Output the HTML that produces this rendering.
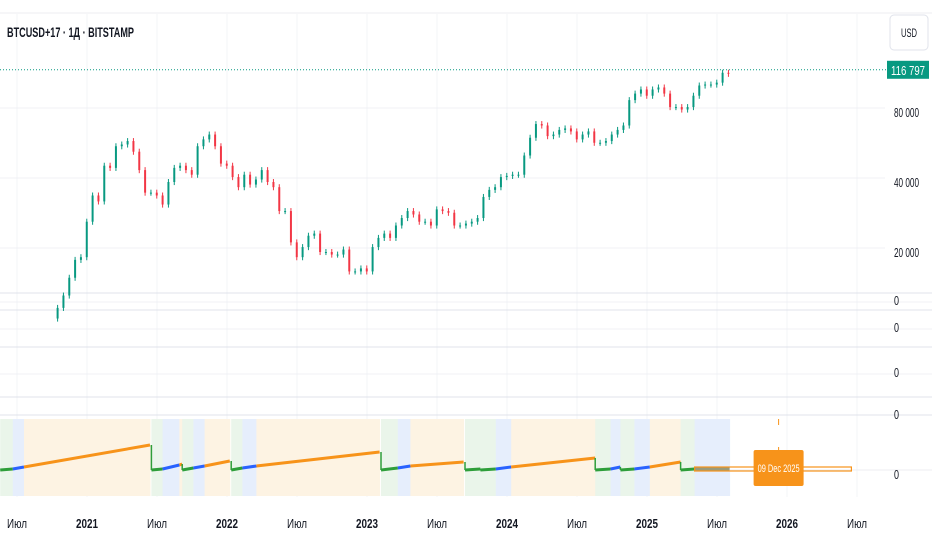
<!DOCTYPE html>
<html><head><meta charset="utf-8">
<style>
html,body{margin:0;padding:0;background:#fff;}
body{width:932px;height:550px;overflow:hidden;position:relative;font-family:"Liberation Sans",sans-serif;}
svg text{font-family:"Liberation Sans",sans-serif;}
</style></head>
<body>
<svg id="chart" width="932" height="550" viewBox="0 0 932 550" xmlns="http://www.w3.org/2000/svg">
  <line x1="0" y1="13" x2="932" y2="13" stroke="#eceef2"/>
  <g id="grid"></g>
  <g id="bands"></g>
  <g id="candles"></g>
  <g id="osc"></g>
  <g id="axes"></g>
  <text x="7" y="37" font-size="14" font-weight="bold" fill="#131722" textLength="127" lengthAdjust="spacingAndGlyphs">BTCUSD+17 · 1Д · BITSTAMP</text>
  <rect x="890" y="15" width="38" height="35" rx="4" fill="#fff" stroke="#e0e3eb"/>
  <text x="909" y="37" font-size="12" text-anchor="middle" fill="#131722" textLength="16" lengthAdjust="spacingAndGlyphs">USD</text>
</svg>
<script>
// ---- data ----
const priceStart = 2020.79;      // first half-month point (Oct 2020)
const priceStep = 1/24;          // half-month step
const closes = [11500,13000,15500,18500,19000,27000,35000,33000,47000,46000,57000,58000,60000,54000,45000,36000,36000,35000,32000,40000,46000,47000,45000,43000,57000,61000,64000,57000,48000,47000,42000,38000,43000,39000,41000,45000,40000,38000,30000,30000,22000,19000,21000,23500,24000,20000,20000,19500,19500,20500,16500,16500,17000,16500,21000,23000,24000,23000,26000,28000,30000,29000,27000,27000,26000,30500,30000,29500,26000,26000,26500,27000,28000,34500,37000,38000,42000,42500,43000,43000,52000,62000,71000,70000,63000,64000,67000,68000,66000,61000,64000,66000,59000,59000,60000,64000,67000,70000,90000,96000,100000,94000,100000,102000,96000,84000,84000,82000,84000,94000,104000,105000,105000,107000,118000,116797];
const lastPrice = 116797;
const priceTicks = [80000,40000,20000];
const xTickLabels = ["Июл","2021","Июл","2022","Июл","2023","Июл","2024","Июл","2025","Июл","2026","Июл"];
const xTickTimes = [2020.5,2021,2021.5,2022,2022.5,2023,2023.5,2024,2024.5,2025,2025.5,2026,2026.5];
// oscillator segments
const segStart = [2020.38,2020.47,2020.55,2021.46,2021.54,2021.66,2021.68,2021.76,2021.84,2022.03,2022.11,2022.21,2023.10,2023.22,2023.31,2023.70,2023.81,2023.92,2024.03,2024.63,2024.74,2024.81,2024.91,2025.02,2025.24,2025.34];
const segEnd   = [2020.47,2020.55,2021.45,2021.54,2021.66,2021.68,2021.76,2021.84,2022.02,2022.11,2022.21,2023.09,2023.22,2023.31,2023.69,2023.81,2023.92,2024.03,2024.63,2024.74,2024.81,2024.91,2025.02,2025.24,2025.34,2025.59];
const segV0    = [0,1,3,0,1,5,0,2,4,0,2,4,0,2,4,0,0,1,3,0,1,0,1,3,0,1];
const segV1    = [1,3,25,1,5,6,2,4,9,2,4,18,2,4,8,1,1,3,12,1,3,1,3,8,1,1];
const segPhase = ["g","b","o","g","b","o","g","b","o","g","b","o","g","b","o","g","g","b","o","g","b","g","b","o","g","x"];
const projStart = 2025.34, projEnd = 2026.46, projValue = 1;
const markerTime = 2025.94, markerLabel = "09 Dec 2025";

// ---- scales ----
const X = t => 87 + (t - 2021) * 140;
const Y = p => 112 - 70 * Math.log2(p / 80000);
const OY = v => 470 - v * 1.0;
const NS = "http://www.w3.org/2000/svg";
function mk(tag, attrs, parent){ const e=document.createElementNS(NS,tag); for(const k in attrs) e.setAttribute(k,attrs[k]); parent.appendChild(e); return e; }
const grid=document.getElementById('grid'), axes=document.getElementById('axes'), candles=document.getElementById('candles'), bands=document.getElementById('bands'), osc=document.getElementById('osc');

// vertical grid
xTickTimes.forEach((t,i)=>{
  const l=mk('line',{x1:X(t),x2:X(t),y1:14,y2:497,stroke:'#f3f4f7'},grid);
  
  
  const isYear = xTickLabels[i]!=='Июл';
  const tx=mk('text',{x:X(t),y:528,'font-size':13,'text-anchor':'middle',fill:'#131722','font-weight':isYear?'bold':'normal',textLength:isYear?22:20,lengthAdjust:'spacingAndGlyphs'},axes);
  tx.textContent=xTickLabels[i];
  
  
});
// price grid + ticks
priceTicks.forEach(p=>{
  const l=mk('line',{x1:0,x2:885,y1:Y(p)-4,y2:Y(p)-4,stroke:'#f0f1f4'},grid);
  
  
  const tx=mk('text',{x:894,y:Y(p)+5,'font-size':13,fill:'#131722',textLength:25,lengthAdjust:'spacingAndGlyphs'},axes);
  tx.textContent=p.toLocaleString('ru-RU').replace(/\s/g,' ');
  
  
});
// pane separators and zero labels
[[293,'#e0e3eb'],[310,'#e0e3eb'],[347,'#e0e3eb'],[397,'#e0e3eb'],[415,'#e0e3eb'],[302,'#f0f1f4'],[329,'#f0f1f4'],[374,'#f0f1f4'],[470,'#eceef2']].forEach(s=>{
  const l=mk('line',{x1:0,x2:932,y1:s[0],y2:s[0],stroke:s[1]},grid);
  
  
});
[300,327,372,414,474].forEach(y=>{
  const tx=mk('text',{x:894,y:y+5,'font-size':13,fill:'#131722',textLength:5,lengthAdjust:'spacingAndGlyphs'},axes);
  tx.textContent='0';
  
  
});
// candles
closes.forEach((c,i)=>{
  const o = i===0 ? c*0.9 : closes[i-1];
  const t = priceStart + i*priceStep;
  const x = X(t);
  const hi = Math.max(o,c)*1.03, lo = Math.min(o,c)*0.97;
  const col = c>=o ? '#089981' : '#f23645';
  const w=mk('line',{x1:x,x2:x,y1:Y(hi),y2:Y(lo),stroke:col,'stroke-width':1},candles);
  
  
  const yt=Math.min(Y(o),Y(c)), h=Math.max(1,Math.abs(Y(o)-Y(c)));
  const b=mk('rect',{x:x-1,y:yt,width:2,height:h,fill:col},candles);
  
  
});
// last price line & label
const pl=mk('line',{x1:0,x2:886,y1:Y(lastPrice)-4,y2:Y(lastPrice)-4,stroke:'#089981','stroke-dasharray':'1 2','stroke-width':1},axes);


const pr=mk('rect',{x:887,y:Y(lastPrice)-13,width:42,height:18,fill:'#089981'},axes);


const pt=mk('text',{x:908,y:Y(lastPrice)+1,'font-size':13,'text-anchor':'middle',fill:'#fff',textLength:34,lengthAdjust:'spacingAndGlyphs'},axes);
pt.textContent=lastPrice.toLocaleString('ru-RU').replace(/\s/g,' ');



// oscillator
const bandCol={g:'#eaf5ea',b:'#e6eefc',o:'#fdf3e3',x:'#e6eefc'};
const lineCol={g:'#2e9e3a',b:'#2962ff',o:'#f7931a',x:'#9a9a7a'};
segStart.forEach((s,i)=>{
  const r=mk('rect',{x:X(s),y:419,width:Math.max(0,X(segEnd[i])-X(s)+0.5),height:77,fill:bandCol[segPhase[i]]},bands);
  
  
});
segStart.forEach((s,i)=>{
  const l=mk('line',{x1:X(s),y1:OY(segV0[i]),x2:X(segEnd[i]),y2:OY(segV1[i]),stroke:lineCol[segPhase[i]],'stroke-width':3},osc);
  
  
  if(i>0){
    const d=mk('line',{x1:X(s),y1:OY(segV1[i-1]),x2:X(s),y2:OY(segV0[i]),stroke:lineCol[segPhase[i]],'stroke-width':1.5},osc);
    
    
  }
});
// projection
const pj=mk('rect',{x:X(projStart),y:OY(projValue)-2,width:X(projEnd)-X(projStart),height:4,fill:'none',stroke:'#f7931a','stroke-width':1.2},osc);


const mv=mk('line',{x1:X(markerTime),x2:X(markerTime),y1:417,y2:497,stroke:'#f7931a','stroke-dasharray':'6 22','stroke-dashoffset':'-2'},osc);


const mb=mk('rect',{x:X(markerTime)-25,y:450,width:50,height:36,rx:2,fill:'#f7931a'},osc);


const mt=mk('text',{x:X(markerTime),y:472,'font-size':11,'text-anchor':'middle',fill:'#fff',textLength:42,lengthAdjust:'spacingAndGlyphs'},osc);
mt.textContent=markerLabel;


</script>
</body></html>
